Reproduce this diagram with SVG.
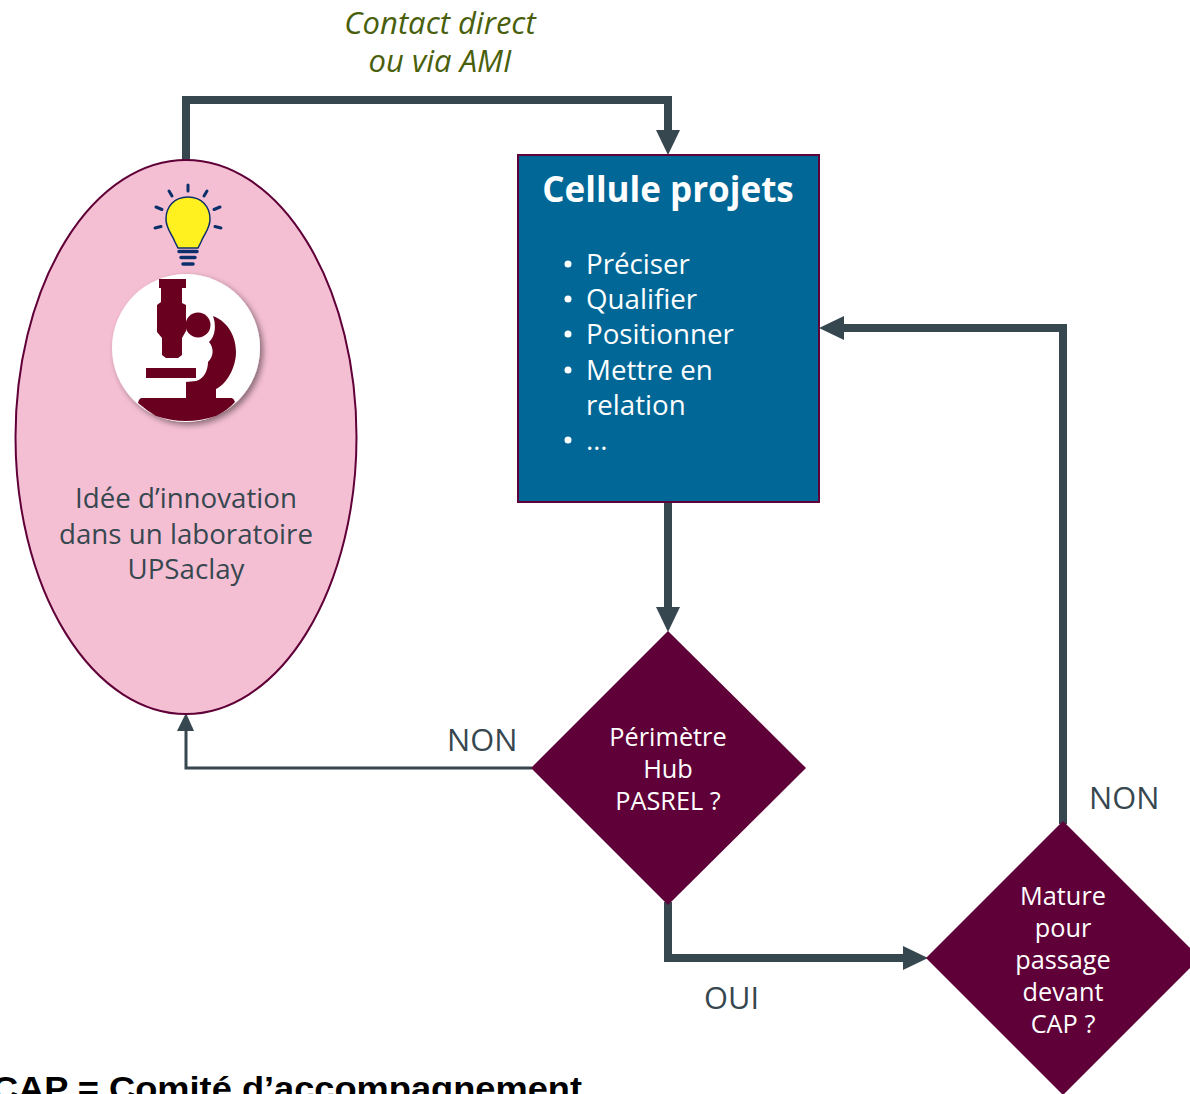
<svg xmlns="http://www.w3.org/2000/svg" width="1190" height="1094" viewBox="0 0 1190 1094">
<defs>
<style>
text{font-family:"Open Sans","Noto Sans",sans-serif;fill:#37474f;font-size:27.700px}
.c{text-anchor:middle}
.w{fill:#fff}
.d{fill:#600038;stroke:none}
.l{fill:none;stroke:#37474f;stroke-width:8}
.t{fill:none;stroke:#37474f;stroke-width:3}
.a{fill:#37474f}
.g{font-style:italic;fill:#4a5f0c;font-size:31px}
.s{font-size:25.300px}
.n{font-size:30.800px}
</style>
<filter id="sh" x="-20%" y="-20%" width="140%" height="140%"><feDropShadow dx="3" dy="3" stdDeviation="3" flood-color="#000" flood-opacity=".45"/></filter>
</defs>
<rect width="1190" height="1094" fill="#fff"/>
<g id="connectors">
<path class="l" d="M186 162V100H668V132"/><path class="a" d="M656 130H680L668 155Z"/>
<path class="l" d="M668 500V610"/><path class="a" d="M656 607H680L668 632Z"/>
<path class="t" d="M532 768H186V730"/><path class="a" d="M177 731H194L186 713Z"/>
<path class="l" d="M668 902V958H905"/><path class="a" d="M903 946V970L928 958Z"/>
<path class="l" d="M1063 824V328H842"/><path class="a" d="M844 316V340L819 328Z"/>
</g>
<g id="contact-label">
<text class="c g" x="440" y="34">Contact direct</text>
<text class="c g" x="440" y="72">ou via AMI</text>
</g>
<g id="idea">
<ellipse cx="186" cy="437" rx="170.500" ry="277" fill="#f5bfd3" stroke="#600038" stroke-width="2"/>
<g id="bulb">
<path d="M188 197C174 197 166 207 166 219C166 229 172 234 175 242L178 248H198L201 242C204 234 210 229 210 219C210 207 202 197 188 197Z" fill="#fff11f" stroke="#0b2f6b" stroke-width="1.500"/>
<path d="M179 251.500H197M181 257.500H195M183 264H193" stroke="#0b2f6b" stroke-width="3.500" stroke-linecap="round" fill="none"/>
<path d="M188 185V191M169 191L172 196M207 191L204 196M156 207L162 209.500M220 207L214 209.500M155 228L161 226.500M221 228L215 226.500" stroke="#0b2f6b" stroke-width="3" stroke-linecap="round" fill="none"/>
</g>
<circle cx="186" cy="348" r="74" fill="#fff" filter="url(#sh)"/>
<g id="microscope" fill="#690020">
<path d="M159 279H186V288H182V303L186 305V331L182 338V355L178 358H166L162 355V338L157 332V305L161 302V288H159Z"/>
<circle cx="198" cy="325" r="12.500"/>
<path d="M213 316C229 322 236 338 236 352C236 367 227 384 216 389V398H186V382L196 381C204 379 208 370 208 362C214 356 214 348 209 342C216 336 216 324 213 316Z"/>
<rect x="146" y="368" width="50" height="10"/>
<path d="M142 398H232Q234 399 235 402Q228 410 216 416Q186 426 156 416Q146 410 138 403Q139 398 142 398Z"/>
</g>
<text class="c" x="186" y="508">Idée d’innovation</text>
<text class="c" x="186" y="544">dans un laboratoire</text>
<text class="c" x="186" y="579">UPSaclay</text>
</g>
<g id="cellule">
<rect x="518" y="155" width="301" height="347" fill="#016797" stroke="#600038" stroke-width="2"/>
<text class="c w" x="668" y="202" style="font-size:35px;font-weight:700">Cellule projets</text>
<circle cx="568" cy="264" r="3.500" fill="#fff"/><text class="w" x="586" y="274">Préciser</text>
<circle cx="568" cy="299" r="3.500" fill="#fff"/><text class="w" x="586" y="309">Qualifier</text>
<circle cx="568" cy="334" r="3.500" fill="#fff"/><text class="w" x="586" y="344">Positionner</text>
<circle cx="568" cy="370" r="3.500" fill="#fff"/><text class="w" x="586" y="380">Mettre en</text>
<text class="w" x="586" y="415">relation</text>
<circle cx="568" cy="440" r="3.500" fill="#fff"/><text class="w" x="586" y="450">…</text>
</g>
<g id="perimetre">
<path class="d" d="M668 631L806 768L668 905L531 768Z"/>
<text class="c w s" x="668" y="746">Périmètre</text>
<text class="c w s" x="668" y="778">Hub</text>
<text class="c w s" x="668" y="810">PASREL ?</text>
</g>
<g id="mature">
<path class="d" d="M1063 821L1200 958L1063 1095L926 958Z"/>
<text class="c w s" x="1063" y="905">Mature</text>
<text class="c w s" x="1063" y="937">pour</text>
<text class="c w s" x="1063" y="969">passage</text>
<text class="c w s" x="1063" y="1001">devant</text>
<text class="c w s" x="1063" y="1033">CAP ?</text>
</g>
<g id="labels">
<text class="n" x="447" y="751">NON</text>
<text class="n" x="1089" y="809">NON</text>
<text class="n" x="704" y="1009">OUI</text>
<text x="-8" y="1100" style="font-family:'Liberation Sans',sans-serif;font-weight:700;font-size:33px;fill:#000" textLength="590" lengthAdjust="spacingAndGlyphs">CAP = Comité d’accompagnement</text>
</g>
</svg>
